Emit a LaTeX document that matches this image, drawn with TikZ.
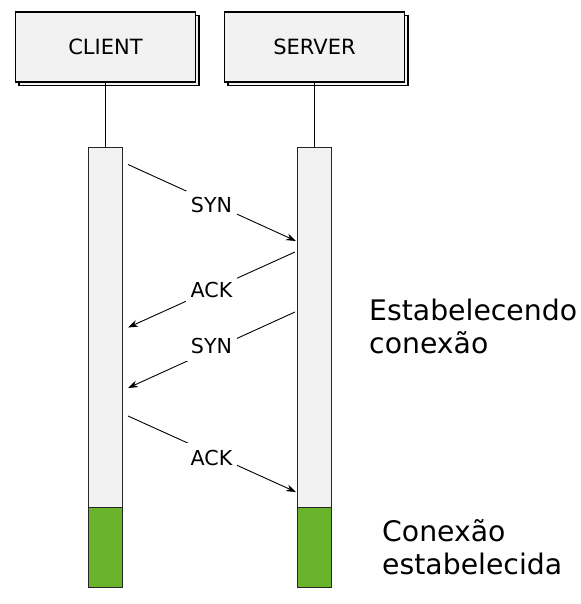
\documentclass[tikz,border=0pt]{standalone}
\usepackage{fontspec}
\setmainfont{DejaVu Sans}
\usetikzlibrary{arrows.meta}
\definecolor{boxgray}{RGB}{242,242,242}
\definecolor{okgreen}{RGB}{106,180,44}
\begin{document}
\begin{tikzpicture}[x=1pt,y=-1pt,
  actor/.style={draw=black,line width=1.3pt,fill=boxgray,minimum width=180pt,minimum height=70pt,inner sep=0pt,font=\fontsize{21}{25}\selectfont},
  shadowbox/.style={draw=black,line width=1.3pt,fill=boxgray,minimum width=180pt,minimum height=70pt,inner sep=0pt},
  bar/.style={draw=black!85,line width=1.1pt,fill=boxgray,inner sep=0pt},
  done/.style={draw=black!85,line width=1.1pt,fill=okgreen,inner sep=0pt},
  msg/.style={line width=0.9pt,-{Stealth[length=10pt,width=7pt]}},
  lbl/.style={fill=white,inner xsep=5pt,inner ysep=7pt,font=\fontsize{20.6}{24}\selectfont},
  note/.style={align=left,inner sep=0pt,font=\fontsize{28.3}{33.5}\selectfont}]
\useasboundingbox (0,0) rectangle (580,604);
% actors
\node[shadowbox] (cs) at (109,50.5) {};
\node[actor] (client) at (105.5,47) {CLIENT};
\node[shadowbox] (ss) at (318,50.5) {};
\node[actor] (server) at (314.5,47) {SERVER};
% activation bars
\node[bar,minimum width=34.5pt,minimum height=360pt,anchor=north] (cbar) at (105.5,147) {};
\node[done,minimum width=34.5pt,minimum height=80pt,anchor=north] (cgreen) at (105.5,507) {};
\node[bar,minimum width=34.5pt,minimum height=360pt,anchor=north] (sbar) at (314.5,147) {};
\node[done,minimum width=34.5pt,minimum height=80pt,anchor=north] (sgreen) at (314.5,507) {};
% lifelines
\draw[line width=1.1pt] (client.south) -- (cbar.north);
\draw[line width=1.1pt] (server.south) -- (sbar.north);
% message end points
\coordinate (c1) at (128,164.5);
\coordinate (s1) at (296,241);
\coordinate (s2) at (295,252);
\coordinate (c2) at (128,327.5);
\coordinate (s3) at (295,312);
\coordinate (c3) at (128,388);
\coordinate (c4) at (128,416);
\coordinate (s4) at (296,492);
% messages
\draw[msg] (c1) -- (s1);
\draw[msg] (s2) -- (c2);
\draw[msg] (s3) -- (c3);
\draw[msg] (c4) -- (s4);
\node[lbl] (l1) at (211.5,205.5) {SYN};
\node[lbl] (l2) at (211.5,289.5) {ACK};
\node[lbl] (l3) at (211.5,346) {SYN};
\node[lbl] (l4) at (211.5,457.5) {ACK};
% notes
\node[note,anchor=base west] (n1) at (369,353.5) {Estabelecendo\\conexão};
\node[note,anchor=base west] (n2) at (382,574.5) {Conexão\\estabelecida};
\end{tikzpicture}
\end{document}
